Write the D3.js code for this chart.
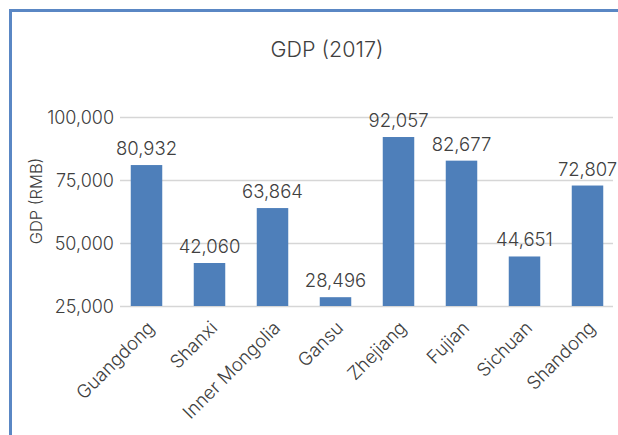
<!DOCTYPE html>
<html>
<head>
<meta charset="utf-8">
<script src="https://cdn.jsdelivr.net/npm/d3@7"></script>
<style>
  html, body { margin: 0; padding: 0; background: #fff; }
  svg { display: block; font-family: Inter, "Open Sans", sans-serif; font-weight: 300; }
</style>
</head>
<body>
<svg id="chart" width="618" height="435"></svg>
<script>
// Provinces and their 2017 GDP values (RMB)
const provinces = ["Guangdong", "Shanxi", "Inner Mongolia", "Gansu", "Zhejiang", "Fujian", "Sichuan", "Shandong"];
const gdp = [80932, 42060, 63864, 28496, 92057, 82677, 44651, 72807];
const yTicks = [25000, 50000, 75000, 100000];

const FONT = "Inter, 'Open Sans', sans-serif";
const svg = d3.select("#chart");
const W = 618, H = 435;

// Outer frame (top and left edges visible)
svg.append("path")
  .attr("d", `M10.5,${H} V10.5 H${W}`)
  .attr("fill", "none")
  .attr("stroke", "#5a87c4")
  .attr("stroke-width", 3);

// Title
svg.append("text")
  .attr("x", 327).attr("y", 57)
  .attr("text-anchor", "middle")
  .attr("font-size", 21.5)
  .attr("fill", "#404040")
  .text("GDP (2017)");

const x = d3.scaleBand().domain(provinces).range([115, 619]).paddingInner(0.5).paddingOuter(0.25);
const y = d3.scaleLinear().domain([25000, 100000]).range([306, 117]);

// Horizontal gridlines
svg.append("g")
  .selectAll("line")
  .data(yTicks)
  .join("line")
  .attr("x1", 120).attr("x2", 613)
  .attr("y1", d => y(d) + 0.5).attr("y2", d => y(d) + 0.5)
  .attr("stroke", "#d6d6d6")
  .attr("stroke-width", 1.5);

// Y axis tick labels
const yAxis = d3.axisLeft(y).tickValues(yTicks).tickFormat(d3.format(",")).tickSize(0).tickPadding(0);
const yg = svg.append("g").attr("transform", "translate(114,0)").call(yAxis);
yg.select(".domain").remove();
yg.selectAll("text")
  .attr("font-family", FONT)
  .attr("font-size", 18)
  .attr("fill", "#404040")
  .attr("dy", "0.35em");

// Y axis title
svg.append("text")
  .attr("transform", "translate(42,201) rotate(-90)")
  .attr("text-anchor", "middle")
  .attr("font-size", 16.5)
  .attr("fill", "#404040")
  .text("GDP (RMB)");

// Bars
svg.append("g")
  .selectAll("rect")
  .data(provinces)
  .join("rect")
  .attr("x", d => x(d))
  .attr("width", x.bandwidth())
  .attr("y", (d, i) => y(gdp[i]))
  .attr("height", (d, i) => y(25000) - y(gdp[i]))
  .attr("fill", "#4e7fba");

// Value labels above bars
svg.append("g")
  .selectAll("text")
  .data(provinces)
  .join("text")
  .attr("x", d => x(d) + x.bandwidth() / 2)
  .attr("y", (d, i) => y(gdp[i]) - 10)
  .attr("text-anchor", "middle")
  .attr("font-size", 18.5)
  .attr("fill", "#404040")
  .text((d, i) => d3.format(",")(gdp[i]));

// Category labels, rotated
const xAxis = d3.axisBottom(x).tickSize(0).tickPadding(0);
const xg = svg.append("g").attr("transform", "translate(0,306)").call(xAxis);
xg.select(".domain").remove();
xg.selectAll("text")
  .attr("font-family", FONT)
  .attr("font-size", 18.5)
  .attr("fill", "#404040")
  .attr("text-anchor", "end")
  .attr("dy", null)
  .attr("y", 0)
  .attr("transform", "translate(9,23) rotate(-45)");
</script>
</body>
</html>
